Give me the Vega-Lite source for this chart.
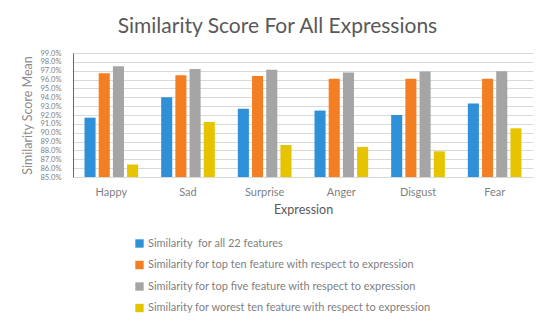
{
  "$schema": "https://vega.github.io/schema/vega-lite/v6.json",
  "width": 460,
  "height": 124,
  "padding": {"left": 21, "top": 16, "right": 10, "bottom": 5},
  "background": "white",
  "title": {
    "text": "Similarity Score For All Expressions",
    "fontSize": 21,
    "font": "Lato",
    "fontWeight": "normal",
    "color": "#595959",
    "anchor": "middle",
    "frame": "bounds",
    "offset": 12
  },
  "data": {
    "values": [
      {"expr": "Happy", "series": "Similarity\u00a0 for all 22 features", "v": 0.917},
      {"expr": "Happy", "series": "Similarity for top ten feature with respect to expression", "v": 0.967},
      {"expr": "Happy", "series": "Similarity for top five feature with respect to expression", "v": 0.975},
      {"expr": "Happy", "series": "Similarity for worest ten feature with respect to expression", "v": 0.864},
      {"expr": "Sad", "series": "Similarity\u00a0 for all 22 features", "v": 0.940},
      {"expr": "Sad", "series": "Similarity for top ten feature with respect to expression", "v": 0.965},
      {"expr": "Sad", "series": "Similarity for top five feature with respect to expression", "v": 0.972},
      {"expr": "Sad", "series": "Similarity for worest ten feature with respect to expression", "v": 0.912},
      {"expr": "Surprise", "series": "Similarity\u00a0 for all 22 features", "v": 0.927},
      {"expr": "Surprise", "series": "Similarity for top ten feature with respect to expression", "v": 0.964},
      {"expr": "Surprise", "series": "Similarity for top five feature with respect to expression", "v": 0.971},
      {"expr": "Surprise", "series": "Similarity for worest ten feature with respect to expression", "v": 0.886},
      {"expr": "Anger", "series": "Similarity\u00a0 for all 22 features", "v": 0.925},
      {"expr": "Anger", "series": "Similarity for top ten feature with respect to expression", "v": 0.961},
      {"expr": "Anger", "series": "Similarity for top five feature with respect to expression", "v": 0.968},
      {"expr": "Anger", "series": "Similarity for worest ten feature with respect to expression", "v": 0.884},
      {"expr": "Disgust", "series": "Similarity\u00a0 for all 22 features", "v": 0.920},
      {"expr": "Disgust", "series": "Similarity for top ten feature with respect to expression", "v": 0.961},
      {"expr": "Disgust", "series": "Similarity for top five feature with respect to expression", "v": 0.969},
      {"expr": "Disgust", "series": "Similarity for worest ten feature with respect to expression", "v": 0.879},
      {"expr": "Fear", "series": "Similarity\u00a0 for all 22 features", "v": 0.933},
      {"expr": "Fear", "series": "Similarity for top ten feature with respect to expression", "v": 0.961},
      {"expr": "Fear", "series": "Similarity for top five feature with respect to expression", "v": 0.9695},
      {"expr": "Fear", "series": "Similarity for worest ten feature with respect to expression", "v": 0.905}
    ]
  },
  "mark": {"type": "bar"},
  "encoding": {
    "x": {
      "field": "expr",
      "type": "nominal",
      "sort": ["Happy", "Sad", "Surprise", "Anger", "Disgust", "Fear"],
      "scale": {"paddingInner": 0.3, "paddingOuter": 0.15},
      "axis": {
        "title": "Expression",
        "labelAngle": 0,
        "labelFont": "Lato",
        "labelFontSize": 11,
        "labelColor": "#7f7f7f",
        "labelPadding": 9,
        "titleFont": "Lato",
        "titleFontSize": 12.5,
        "titleFontWeight": "normal",
        "titleColor": "#595959",
        "titlePadding": 6,
        "ticks": false,
        "domainColor": "#d9d9d9"
      }
    },
    "xOffset": {
      "field": "series",
      "type": "nominal",
      "sort": [
        "Similarity\u00a0 for all 22 features",
        "Similarity for top ten feature with respect to expression",
        "Similarity for top five feature with respect to expression",
        "Similarity for worest ten feature with respect to expression"
      ],
      "scale": {"paddingInner": 0.22}
    },
    "y": {
      "field": "v",
      "type": "quantitative",
      "scale": {"domain": [0.85, 0.99], "zero": false, "nice": false},
      "axis": {
        "title": "Similarity Score Mean",
        "format": ".1%",
        "values": [0.85, 0.86, 0.87, 0.88, 0.89, 0.9, 0.91, 0.92, 0.93, 0.94, 0.95, 0.96, 0.97, 0.98, 0.99],
        "labelOverlap": false,
        "labelFont": "Lato",
        "labelFontSize": 7.6,
        "labelColor": "#7f7f7f",
        "labelPadding": 12,
        "titleFont": "Lato",
        "titleFontSize": 12.5,
        "titleFontWeight": "normal",
        "titleColor": "#8c8c8c",
        "titlePadding": 5,
        "ticks": false,
        "domainColor": "#5060d0",
        "gridColor": "#d9d9d9",
        "labelFlush": false
      }
    },
    "y2": {"datum": 0.85},
    "color": {
      "field": "series",
      "type": "nominal",
      "sort": [
        "Similarity\u00a0 for all 22 features",
        "Similarity for top ten feature with respect to expression",
        "Similarity for top five feature with respect to expression",
        "Similarity for worest ten feature with respect to expression"
      ],
      "scale": {"range": ["#2f90d8", "#f47f22", "#a5a5a5", "#e6c400"]},
      "legend": {
        "title": null,
        "orient": "none",
        "legendX": 61,
        "legendY": 185,
        "symbolType": "square",
        "symbolSize": 70,
        "labelFont": "Lato",
        "labelFontSize": 11,
        "labelColor": "#7f7f7f",
        "labelLimit": 400,
        "rowPadding": 9.5,
        "labelOffset": 3
      }
    }
  },
  "config": {
    "view": {"stroke": null},
    "axisX": {"grid": false}
  }
}
